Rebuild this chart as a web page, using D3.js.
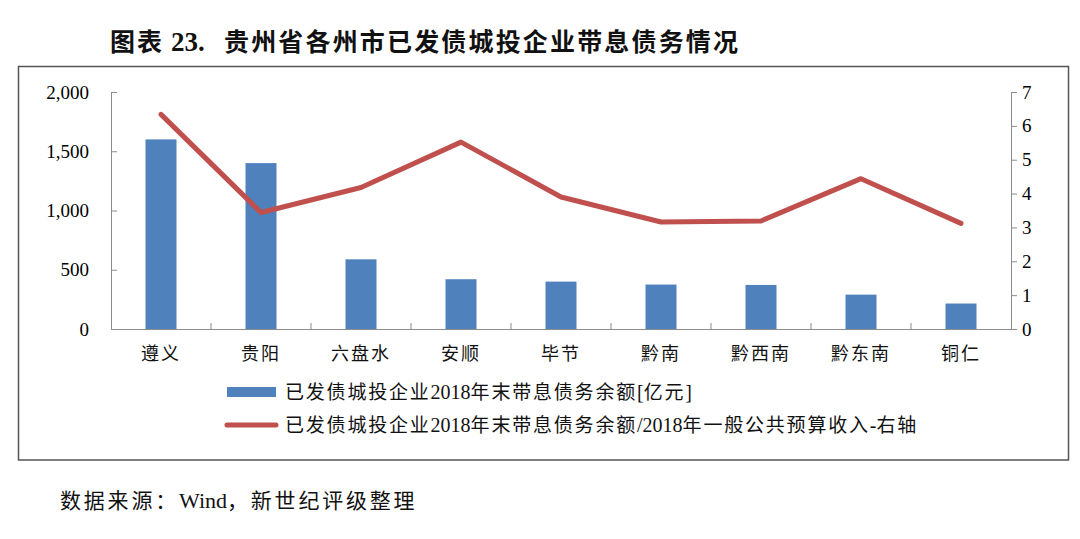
<!DOCTYPE html>
<html><head><meta charset="utf-8">
<script src="https://cdn.jsdelivr.net/npm/d3@7/dist/d3.min.js"></script>
<style>body{margin:0;background:#fff}svg{display:block}</style>
</head><body>
<svg id="c" width="1080" height="539"></svg>
<script>
const categories = ["遵义","贵阳","六盘水","安顺","毕节","黔南","黔西南","黔东南","铜仁"];
const debtValues = [1600,1400,588,420,400,375,372,290,215];
const ratioValues = [6.34,3.44,4.18,5.52,3.90,3.16,3.19,4.44,3.12];
const leftTicks = [0,500,1000,1500,2000];
const rightTicks = [0,1,2,3,4,5,6,7];
const seriesNames = ["已发债城投企业2018年末带息债务余额[亿元]","已发债城投企业2018年末带息债务余额/2018年一般公共预算收入-右轴"];
const titleParts = ["图表", "23.", "贵州省各州市已发债城投企业带息债务情况"];
const sourceText = "数据来源：Wind，新世纪评级整理";

const svg = d3.select("#c");
const serif = "'Liberation Serif','DejaVu Serif',serif";
const cjk = "'Noto Sans CJK SC','Noto Sans',sans-serif";
const blue = "#4F81BD", red = "#C0504D", axisCol = "#8c8c8c";

function mixedText(sel, str, cjkSpacing, latinScale) {
  const re = /[A-Za-z0-9\.\[\]\/\- ]+|[^A-Za-z0-9\.\[\]\/\- ]+/g;
  str.match(re).forEach(p => {
    const latin = /^[A-Za-z0-9\.\[\]\/\- ]+$/.test(p);
    const t = sel.append("tspan").attr("font-family", latin ? serif : cjk).text(p);
    if (latin) t.attr("font-size", latinScale);
    else t.attr("letter-spacing", cjkSpacing);
  });
  return sel;
}

// title
const tg = svg.append("g").attr("font-weight","bold").attr("fill","#111");
tg.append("text").attr("x",110).attr("y",51).attr("font-family",cjk).attr("font-size",25)
  .attr("textLength",52).attr("lengthAdjust","spacing").text(titleParts[0]);
tg.append("text").attr("x",171).attr("y",51).attr("font-family",serif).attr("font-size",27).text(titleParts[1]);
tg.append("text").attr("x",224).attr("y",51).attr("font-family",cjk).attr("font-size",25)
  .attr("textLength",514).attr("lengthAdjust","spacing").text(titleParts[2]);

svg.append("rect").attr("x",18.5).attr("y",66.5).attr("width",1050).attr("height",393.5)
  .attr("fill","none").attr("stroke","#555").attr("stroke-width",1.5);

const x0 = 111, x1 = 1011, yTop = 92, yBot = 329;
const x = d3.scaleBand().domain(categories).range([x0,x1]).paddingInner(0).paddingOuter(0);
const yL = d3.scaleLinear().domain([0,2000]).range([yBot,yTop]);
const yR = d3.scaleLinear().domain([0,7]).range([yBot,yTop]);

const bw = 31;
svg.append("g").selectAll("rect").data(categories).join("rect")
  .attr("x",d=>x(d)+x.bandwidth()/2-bw/2).attr("width",bw)
  .attr("y",(d,i)=>yL(debtValues[i])).attr("height",(d,i)=>yBot-yL(debtValues[i]))
  .attr("fill",blue);

const gL = svg.append("g").attr("transform",`translate(${x0},0)`)
  .call(d3.axisLeft(yL).tickValues(leftTicks).tickSize(-6).tickPadding(22).tickFormat(d3.format(",")));
gL.select(".domain").attr("stroke",axisCol);
gL.selectAll(".tick line").attr("stroke",axisCol);
gL.selectAll(".tick text").attr("font-family",serif).attr("font-size",19).attr("fill","#000");

const gR = svg.append("g").attr("transform",`translate(${x1},0)`)
  .call(d3.axisRight(yR).tickValues(rightTicks).tickSize(6).tickPadding(5).tickFormat(d3.format("d")));
gR.select(".domain").attr("stroke",axisCol);
gR.selectAll(".tick line").attr("stroke",axisCol);
gR.selectAll(".tick text").attr("font-family",serif).attr("font-size",19).attr("fill","#000");

const gX = svg.append("g").attr("transform",`translate(0,${yBot})`)
  .call(d3.axisBottom(x).tickSize(0).tickPadding(18));
gX.select(".domain").attr("stroke",axisCol);
gX.selectAll(".tick text").attr("font-family",cjk).attr("font-size",18).attr("letter-spacing",2).attr("fill","#111");
svg.append("g").selectAll("line").data(categories.slice(1)).join("line")
  .attr("x1",d=>x(d)).attr("x2",d=>x(d)).attr("y1",yBot).attr("y2",yBot-6)
  .attr("stroke",axisCol);

const line = d3.line().x((d,i)=>x(categories[i])+x.bandwidth()/2).y(d=>yR(d));
svg.append("path").datum(ratioValues).attr("d",line)
  .attr("fill","none").attr("stroke",red).attr("stroke-width",5)
  .attr("stroke-linejoin","round").attr("stroke-linecap","round");

const lg = svg.append("g");
lg.append("rect").attr("x",227).attr("y",387).attr("width",49).attr("height",10).attr("fill",blue);
mixedText(lg.append("text").attr("x",285).attr("y",399).attr("font-size",19).attr("fill","#111"),
  seriesNames[0], 1.8, 20);
lg.append("line").attr("x1",227).attr("x2",276).attr("y1",425).attr("y2",425)
  .attr("stroke",red).attr("stroke-width",5).attr("stroke-linecap","round");
mixedText(lg.append("text").attr("x",285).attr("y",432).attr("font-size",19).attr("fill","#111"),
  seriesNames[1], 1.8, 20);

mixedText(svg.append("text").attr("x",60).attr("y",508).attr("font-size",21).attr("fill","#111"),
  sourceText, 2.8, 22);
</script>
</body></html>
